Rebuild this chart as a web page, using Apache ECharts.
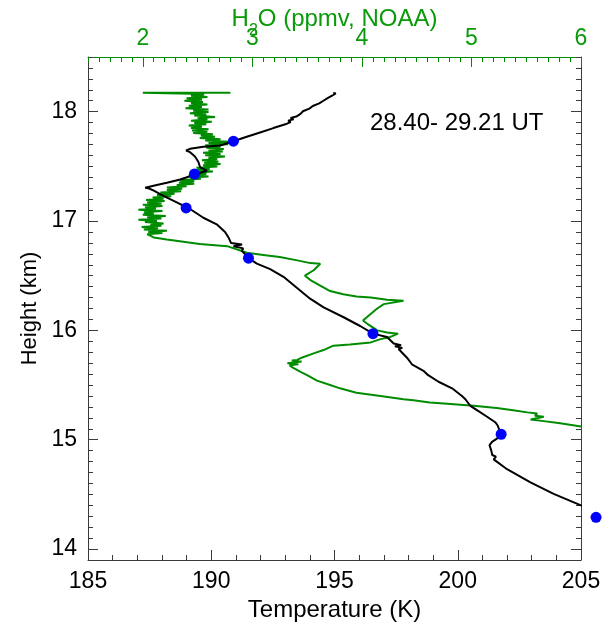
<!DOCTYPE html>
<html>
<head>
<meta charset="utf-8">
<script src="https://cdn.jsdelivr.net/npm/echarts@6/dist/echarts.min.js"></script>
<style>
  html, body { margin: 0; padding: 0; background: #fff; }
  #myChart { width: 605px; height: 623px; }
</style>
</head>
<body>
<div id="myChart"></div>
<script>
// tick labels
const tempTicks = [185, 190, 195, 200, 205];
const h2oTicks = [2, 3, 4, 5, 6];
const heightTicks = [14, 15, 16, 17, 18];

// temperature profile (K) vs height (km)
const tempHeight = [14.375, 14.40, 14.505, 14.61, 14.73, 14.82, 14.845, 14.86, 14.90, 14.95, 14.98, 15.01, 15.05,
  15.13, 15.16, 15.21, 15.27, 15.31, 15.37, 15.40, 15.47, 15.53, 15.59, 15.63, 15.69, 15.75, 15.83, 15.84, 15.855,
  15.865, 15.88, 15.94, 15.97, 16.04, 16.12, 16.21, 16.29, 16.39, 16.49, 16.56, 16.61, 16.66, 16.73, 16.75, 16.77,
  16.785, 16.80, 16.85, 16.90, 16.97, 17.03, 17.11, 17.17, 17.23, 17.28, 17.30, 17.305, 17.33, 17.35, 17.38, 17.41,
  17.43, 17.46, 17.49, 17.54, 17.59, 17.63, 17.645, 17.66, 17.68, 17.69, 17.73, 17.77, 17.81, 17.85, 17.89, 17.905,
  17.918, 17.93, 17.942, 17.955, 17.968, 17.98, 17.992, 18.004, 18.016, 18.028, 18.04, 18.052, 18.064, 18.076,
  18.088, 18.10, 18.112, 18.124, 18.136, 18.148, 18.158, 18.166, 18.172];
const tempK = [205.3, 205.0, 203.89, 202.95, 202.0, 201.46, 201.55, 201.40, 201.36, 201.29, 201.39, 201.59, 201.75,
  201.62, 201.52, 201.19, 200.78, 200.51, 200.31, 200.17, 199.77, 199.22, 198.8, 198.61, 198.14, 197.94, 197.6, 197.75,
  197.45, 197.7, 197.4, 197.13, 196.56, 196.04, 195.37, 194.56, 194.01, 193.47, 192.93, 192.39, 191.85, 191.51, 191.24,
  191.3, 190.9, 191.25, 190.8, 190.7, 190.56, 190.22, 189.68, 189.14, 188.6, 188.06, 187.65, 187.45, 187.32, 187.79,
  188.2, 188.74, 189.14, 189.4, 189.82, 189.55, 189.48, 189.34, 189.14, 188.98, 189.14, 189.68, 190.36, 190.9, 191.44,
  191.98, 192.52, 193.07, 193.22, 193.12, 193.34, 193.22, 193.45, 193.40, 193.62, 193.55, 193.72, 193.70, 193.98,
  193.90, 194.12, 194.10, 194.38, 194.30, 194.55, 194.50, 194.72, 194.65, 194.92, 194.85, 195.05, 194.95];

// water vapour (ppmv, NOAA) vs height (km)
const h2oHeight = [15.115, 15.12, 15.15, 15.17, 15.185, 15.21, 15.22, 15.24, 15.25, 15.27, 15.29, 15.31, 15.33, 15.34,
  15.36, 15.37, 15.40, 15.43, 15.47, 15.50, 15.54, 15.59, 15.62, 15.66, 15.68, 15.69, 15.70, 15.715, 15.725, 15.73,
  15.75, 15.79, 15.82, 15.86, 15.87, 15.89, 15.92, 15.94, 15.97, 15.98, 16.00, 16.06, 16.09, 16.15, 16.20, 16.24,
  16.27, 16.28, 16.30, 16.31, 16.33, 16.36, 16.41, 16.46, 16.50, 16.55, 16.61, 16.615, 16.64, 16.67, 16.69, 16.71,
  16.77, 16.79, 16.83, 16.85, 16.88,
  16.890, 16.900, 16.912, 16.922, 16.934, 16.945, 16.956, 16.967, 16.978, 16.990, 17.001, 17.012, 17.024, 17.035,
  17.046, 17.058, 17.069, 17.080, 17.091, 17.103, 17.114, 17.125, 17.137, 17.148, 17.159, 17.170, 17.182, 17.193,
  17.204, 17.216, 17.227, 17.238, 17.250, 17.261, 17.272, 17.284, 17.295, 17.306, 17.318, 17.329, 17.340, 17.352,
  17.363, 17.374, 17.386, 17.397, 17.408, 17.420, 17.431, 17.442, 17.454, 17.465, 17.476, 17.488, 17.499, 17.510,
  17.522, 17.533, 17.544, 17.556, 17.567, 17.578, 17.590, 17.601, 17.612, 17.624, 17.635, 17.646, 17.658, 17.669,
  17.680, 17.692, 17.703, 17.714, 17.726, 17.737, 17.748, 17.760, 17.771, 17.782, 17.794, 17.805, 17.816, 17.828,
  17.839, 17.850, 17.862, 17.873, 17.884, 17.896, 17.907, 17.918, 17.930, 17.941, 17.952, 17.964, 17.975, 17.986,
  17.998, 18.009, 18.020, 18.032, 18.043, 18.054, 18.066, 18.077, 18.088, 18.100, 18.111, 18.122, 18.134, 18.145,
  18.156, 18.165, 18.172, 18.172];
const h2oPpmv = [6.05, 6.0, 5.81, 5.66, 5.54, 5.66, 5.58, 5.60, 5.51, 5.38, 5.23, 5.02, 4.78, 4.62,
  4.47, 4.38, 4.17, 3.95, 3.80, 3.71, 3.59, 3.50, 3.44, 3.37, 3.34, 3.42, 3.32, 3.45, 3.36, 3.41,
  3.45, 3.56, 3.65, 3.74, 3.89, 4.08, 4.17, 4.26, 4.33, 4.23, 4.14, 4.05, 4.01, 4.08, 4.14, 4.20,
  4.38, 4.23, 4.08, 3.95, 3.83, 3.71, 3.62, 3.53, 3.48, 3.56, 3.62, 3.53, 3.41, 3.25, 3.10, 2.95,
  2.77, 2.52, 2.22, 2.10, 2.04,
  2.18, 2.05, 2.22, 2.01, 2.14, 1.99, 2.17, 2.07, 2.19, 2.02, 2.13, 1.96, 2.17, 2.04,
  2.21, 2.00, 2.10, 2.01, 2.18, 1.96, 2.12, 2.02, 2.18, 2.00, 2.17, 2.04, 2.20, 2.03,
  2.19, 2.09, 2.26, 2.13, 2.29, 2.16, 2.35, 2.22, 2.36, 2.22, 2.40, 2.31, 2.47, 2.33,
  2.47, 2.34, 2.53, 2.43, 2.60, 2.42, 2.58, 2.48, 2.64, 2.49, 2.61, 2.49, 2.68, 2.55,
  2.71, 2.56, 2.69, 2.54, 2.68, 2.60, 2.75, 2.57, 2.71, 2.55, 2.73, 2.60, 2.74, 2.58,
  2.71, 2.57, 2.78, 2.60, 2.79, 2.57, 2.71, 2.52, 2.66, 2.53, 2.64, 2.46, 2.59, 2.45,
  2.60, 2.44, 2.54, 2.42, 2.58, 2.47, 2.63, 2.44, 2.59, 2.50, 2.66, 2.47, 2.58, 2.43,
  2.60, 2.46, 2.60, 2.39, 2.54, 2.42, 2.59, 2.44, 2.55, 2.38, 2.54, 2.40, 2.59, 2.44,
  2.56, 2.45, 2.00, 2.80];

// blue points
const dotHeight = [17.73, 17.43, 17.12, 16.66, 15.97, 15.05, 14.29];
const dotTemp = [190.90, 189.32, 188.98, 191.51, 196.56, 201.76, 205.61];

const FONT = 'Liberation Sans, Arial, Helvetica, sans-serif';
const GREEN_TXT = '#0a9a0a';
const GREEN_LINE = '#008c00';
const AXIS = '#3a3a3a';

const myChartDrawer = echarts.init(document.getElementById('myChart'), null, { renderer: 'canvas' });

const tempData = tempHeight.map((h, i) => [tempK[i], h]);
const h2oData = h2oHeight.map((h, i) => [h2oPpmv[i], h]);
const dotData = dotHeight.map((h, i) => [dotTemp[i], h]);

// hidden axis helper for the 0.1 minor ticks
function minorAxis(pos, min, max, color) {
  return {
    type: 'value', position: pos, min: min, max: max, interval: 0.1,
    axisLine: { show: false }, splitLine: { show: false }, axisLabel: { show: false },
    axisTick: { show: true, inside: true, length: 5, lineStyle: { color: color, width: 1 } },
  };
}

const option = {
  animation: false,
  backgroundColor: '#fff',
  grid: { left: 88, right: 24, top: 57, bottom: 63, containLabel: false, outerBoundsMode: 'none' },
  xAxis: [
    {
      type: 'value', position: 'bottom', min: 185, max: 205, interval: 5,
      name: 'Temperature (K)', nameLocation: 'middle', nameGap: 32,
      nameTextStyle: { fontFamily: FONT, fontSize: 24, color: '#000' },
      axisLine: { show: true, onZero: false, lineStyle: { color: AXIS, width: 1 } },
      axisTick: { show: true, inside: true, length: 10, lineStyle: { color: AXIS } },
      minorTick: { show: true, splitNumber: 5, length: 5, lineStyle: { color: AXIS } },
      axisLabel: { customValues: tempTicks, fontFamily: FONT, fontSize: 23, color: '#000', margin: 10 },
      splitLine: { show: false },
    },
    {
      type: 'value', position: 'top', min: 1.5, max: 6,
      name: 'H{sub|2}O (ppmv, NOAA)', nameLocation: 'middle', nameGap: 26, nameMoveOverlap: false,
      nameTextStyle: {
        fontFamily: FONT, fontSize: 24, color: GREEN_TXT,
        rich: { sub: { fontFamily: FONT, fontSize: 16, color: GREEN_TXT, verticalAlign: 'bottom', padding: [0, 0, -8, 0] } },
      },
      axisLine: { show: true, onZero: false, lineStyle: { color: GREEN_LINE, width: 1 } },
      axisTick: { show: true, inside: true, length: 10, customValues: h2oTicks, lineStyle: { color: GREEN_LINE } },
      axisLabel: { customValues: h2oTicks, fontFamily: FONT, fontSize: 23, color: GREEN_TXT, margin: 7 },
      splitLine: { show: false },
    },
    minorAxis('top', 1.5, 6, GREEN_LINE),
  ],
  yAxis: [
    {
      type: 'value', position: 'left', min: 13.9, max: 18.5,
      name: 'Height (km)', nameLocation: 'middle', nameGap: 46, nameRotate: 90,
      nameTextStyle: { fontFamily: FONT, fontSize: 22, color: '#000' },
      axisLine: { show: true, onZero: false, lineStyle: { color: AXIS, width: 1 } },
      axisTick: { show: true, inside: true, length: 10, customValues: heightTicks, lineStyle: { color: AXIS } },
      axisLabel: { customValues: heightTicks, fontFamily: FONT, fontSize: 23, color: '#000', margin: 11 },
      splitLine: { show: false },
    },
    minorAxis('left', 13.9, 18.5, AXIS),
    {
      type: 'value', position: 'right', min: 13.9, max: 18.5,
      axisLine: { show: true, onZero: false, lineStyle: { color: AXIS, width: 1 } },
      axisTick: { show: true, inside: true, length: 10, customValues: heightTicks, lineStyle: { color: AXIS } },
      axisLabel: { show: false },
      splitLine: { show: false },
    },
    minorAxis('right', 13.9, 18.5, AXIS),
  ],
  series: [
    {
      name: 'H2O', type: 'line', xAxisIndex: 1, yAxisIndex: 0,
      data: h2oData, showSymbol: false, clip: true,
      lineStyle: { color: GREEN_LINE, width: 2 }, z: 2,
    },
    {
      name: 'Temperature', type: 'line', xAxisIndex: 0, yAxisIndex: 0,
      data: tempData, showSymbol: false, clip: true,
      lineStyle: { color: '#000', width: 2 }, z: 3,
    },
    {
      name: 'points', type: 'scatter', xAxisIndex: 0, yAxisIndex: 0,
      data: dotData, symbolSize: 11, clip: false,
      itemStyle: { color: '#0000ff', opacity: 1 }, z: 4,
    },
  ],
  graphic: [
    {
      type: 'text', left: 370, top: 111,
      style: { text: '28.40- 29.21 UT', font: '24px ' + FONT, fill: '#000' },
    },
  ],
};

myChartDrawer.setOption(option);
</script>
</body>
</html>
